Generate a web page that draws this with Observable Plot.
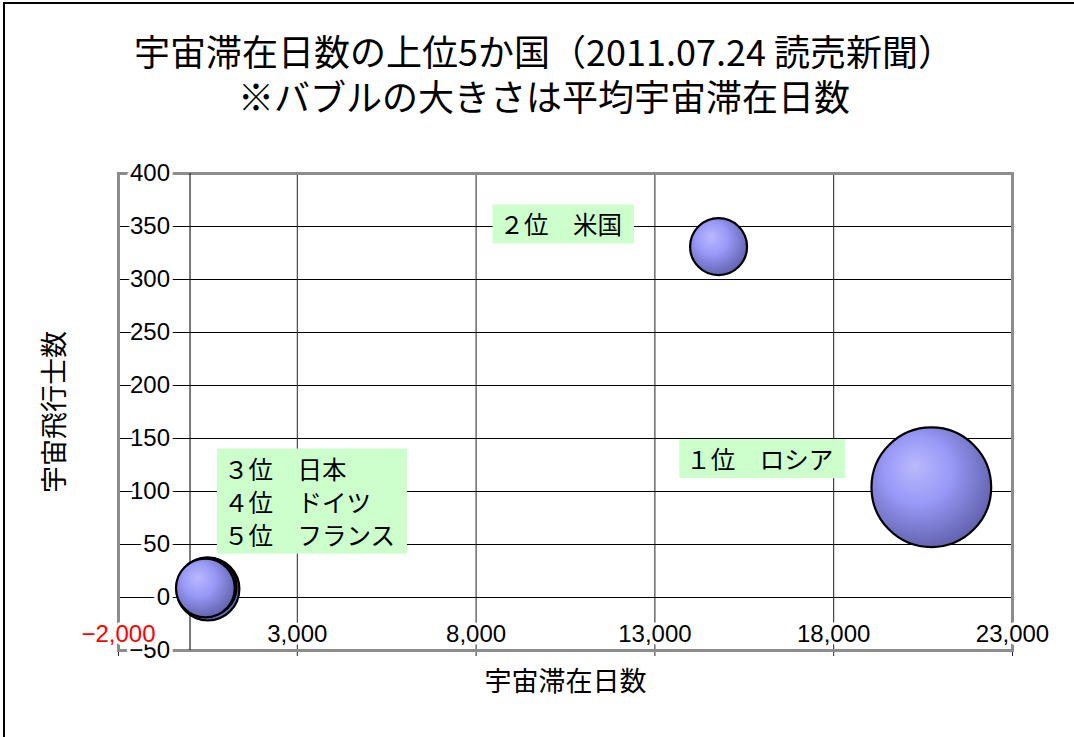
<!DOCTYPE html>
<html><head><meta charset="utf-8">
<script src="https://cdn.jsdelivr.net/npm/d3@7"></script>
<script src="https://cdn.jsdelivr.net/npm/@observablehq/plot@0.6"></script>
<style>
body{margin:0;background:#fff;}
#wrap{position:relative;width:1074px;height:737px;overflow:hidden;font-family:"Noto Sans CJK JP",sans-serif;background:#fff;}
#border{position:absolute;left:3px;top:2px;right:-10px;bottom:-10px;border-top:2px solid #000;border-left:2px solid #000;}
.title{position:absolute;left:0;width:1088px;text-align:center;font-size:36px;line-height:44px;height:44px;color:#000;white-space:nowrap;}
#t1{top:28px;}
#t2{top:73px;}
#chart{position:absolute;left:0;top:125px;}
</style></head>
<body>
<div id="wrap">
<div id="border"></div>
<div class="title" id="t1">宇宙滞在日数の上位5か国（2011.07.24 読売新聞）</div>
<div class="title" id="t2">※バブルの大きさは平均宇宙滞在日数</div>
<div id="chart"></div>
</div>
<script>
// Data
const countries = ["ロシア", "米国", "日本", "ドイツ", "フランス"];
const ranks = [1, 2, 3, 4, 5];
const totalDays = [20730, 14780, 500, 480, 430];   // 宇宙滞在日数
const astronauts = [104, 331, 8, 10, 9];            // 宇宙飛行士数
const avgDays = [199, 45, 55, 48, 48];              // 平均宇宙滞在日数 (bubble size)
const xTicks = [-2000, 3000, 8000, 13000, 18000, 23000];
const yTicks = [-50, 0, 50, 100, 150, 200, 250, 300, 350, 400];
const xTitle = "宇宙滞在日数";
const yTitle = "宇宙飛行士数";

const idx = countries.map((_, i) => i);
const fw = n => String.fromCharCode(0xFF10 + n);
const lab = i => `${fw(ranks[i])}位　${countries[i]}`;
const fmt = d3.format(",");
const numFont = "Liberation Sans, Arial, sans-serif";
const jpFont = "Noto Sans CJK JP, sans-serif";

const plot = Plot.plot({
  width: 1074,
  height: 612,
  marginTop: 48,
  marginBottom: 87,
  marginLeft: 118,
  marginRight: 62,
  style: {background: "transparent", fontFamily: jpFont},
  x: {domain: [-2000, 23000], axis: null},
  y: {domain: [-50, 400], axis: null},
  r: {domain: [0, 200], range: [0, 60]},
  marks: [
    Plot.ruleY(yTicks, {y: d => d, stroke: "#000", strokeWidth: 1}),
    Plot.ruleX(xTicks, {x: d => d, stroke: "#222", strokeWidth: 1}),
    Plot.ruleX(xTicks, {x: d => d, y1: -50, y2: -50, insetBottom: -6, stroke: "#222"}),
    Plot.frame({stroke: "#8c8c8c", strokeWidth: 3}),
    Plot.ruleX([0], {stroke: "#222", strokeWidth: 1.2}),
    Plot.text(yTicks, {x: 0, y: d => d, text: d => fmt(d), textAnchor: "end", dx: -20,
      fontSize: 24, fontFamily: numFont, fill: "#000", stroke: "white", strokeWidth: 7}),
    Plot.text(xTicks, {x: d => d, y: -50, text: d => fmt(d), dy: -16,
      fontSize: 24, fontFamily: numFont, fill: d => d < 0 ? "red" : "black", stroke: "white", strokeWidth: 6}),
    Plot.text([xTitle], {frameAnchor: "bottom", dy: 40, text: d => d, fontSize: 27, fill: "#000"}),
    Plot.text([yTitle], {frameAnchor: "left", dx: -63, rotate: -90, textAnchor: "middle", text: d => d, fontSize: 27, fill: "#000"}),
    Plot.dot(idx, {x: i => totalDays[i], y: i => astronauts[i], r: i => avgDays[i],
      fill: "url(#bub)", stroke: "#000", strokeWidth: 2.2}),
    Plot.text([0], {x: i => totalDays[i], y: i => astronauts[i], text: i => lab(i),
      textAnchor: "start", dx: -245, dy: -26, fontSize: 24.5, fill: "#000", ariaDescription: "bubble-label"}),
    Plot.text([1], {x: i => totalDays[i], y: i => astronauts[i], text: i => lab(i),
      textAnchor: "start", dx: -219, dy: -20, fontSize: 24.5, fill: "#000", ariaDescription: "bubble-label"}),
    Plot.text([2], {x: i => totalDays[i], y: i => astronauts[i], text: i => [2, 3, 4].map(lab).join("\n"),
      textAnchor: "start", dx: 16, dy: -88, lineHeight: 1.35, fontSize: 24.5, fill: "#000", ariaDescription: "bubble-label"})
  ]
});
document.getElementById("chart").appendChild(plot);

const svg = d3.select(plot);
const defs = svg.insert("defs", ":first-child");
const grad = defs.append("radialGradient").attr("id", "bub")
  .attr("cx", "42%").attr("cy", "40%").attr("r", "62%").attr("fx", "36%").attr("fy", "32%");
grad.append("stop").attr("offset", "0%").attr("stop-color", "#b9b9fd");
grad.append("stop").attr("offset", "45%").attr("stop-color", "#9999f8");
grad.append("stop").attr("offset", "100%").attr("stop-color", "#6262ae");

function boxes() {
  plot.querySelectorAll('[aria-description="bubble-label"]').forEach(g => {
    g.querySelectorAll("text").forEach(t => {
      const b = t.getBBox();
      const m = t.getCTM();
      rectAdd(b.x + m.e - 7, b.y + m.f - 2, b.width + 19, b.height + 4, g);
    });
  });
}
function rectAdd(x, y, w, h, g) {
  const rect = document.createElementNS("http://www.w3.org/2000/svg", "rect");
  rect.setAttribute("x", x);
  rect.setAttribute("y", y);
  rect.setAttribute("width", w);
  rect.setAttribute("height", h);
  rect.setAttribute("fill", "#ccffcc");
  g.parentNode.insertBefore(rect, g);
}
if (document.fonts && document.fonts.ready) document.fonts.ready.then(boxes); else boxes();
</script>
</body></html>
